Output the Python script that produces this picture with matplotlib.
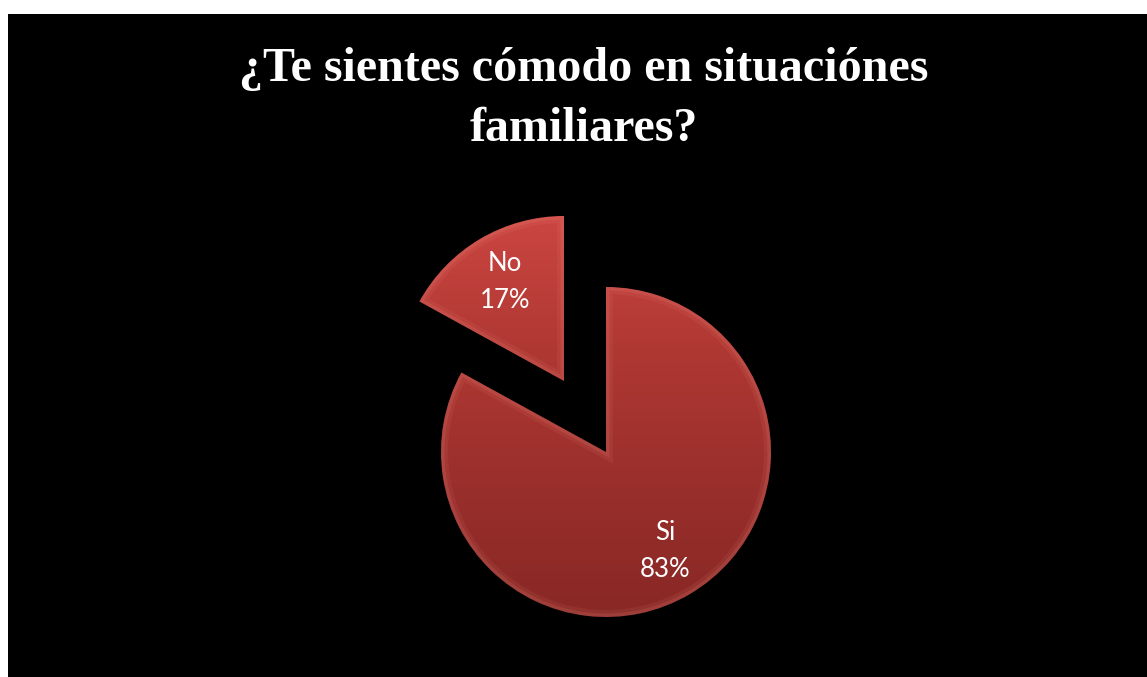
import numpy as np
import matplotlib.pyplot as plt
from matplotlib.patches import Wedge
from matplotlib.colors import LinearSegmentedColormap

# datos de la encuesta
labels = ["Si", "No"]
values = [83, 17]
explode = [0.0, 0.5]
title = "¿Te sientes cómodo en situaciónes\nfamiliares?"

W, H = 1147, 677
fig = plt.figure(figsize=(W / 100, H / 100), dpi=100, facecolor="white")

# fondo negro de la diapositiva (borde blanco arriba e izquierda)
bg = fig.add_axes([8 / W, 0, 1 - 8 / W, 1 - 14 / H])
bg.set_facecolor("black")
bg.set_xticks([])
bg.set_yticks([])
for s in bg.spines.values():
    s.set_visible(False)

# ejes del pastel: 1 unidad = 165 px, centro en (606, 452) px
cx, cy, r = 606, 452, 165
ax = fig.add_axes([0, 0, 1, 1])
ax.patch.set_visible(False)

txt = [f"{l}\n{v}%" for l, v in zip(labels, values)]
wedges, texts = ax.pie(values, labels=txt, explode=explode, startangle=90,
                       counterclock=False, labeldistance=0.7,
                       wedgeprops=dict(facecolor="none", edgecolor="none"),
                       textprops=dict(color="white", fontsize=18.5, family="Lato",
                                      ha="center", va="center", linespacing=1.6))
ax.set_xlim(-cx / r, (W - cx) / r)
ax.set_ylim(-(H - cy) / r, cy / r)
ax.set_aspect("equal")
ax.axis("off")

# degradado rojo dentro de cada porción
grad = np.linspace(0, 1, 256).reshape(-1, 1)
cmap = LinearSegmentedColormap.from_list("rojo", ["#cc4642", "#b03833", "#9a2f2c", "#882825"])
for w in wedges:
    im = ax.imshow(grad, cmap=cmap, aspect="auto", origin="upper",
                   extent=(-1.6, 1.6, -1.0, 1.45), zorder=1)
    im.set_clip_path(w)
    # brillo suave en el borde (bisel)
    for lw, a in [(10, 0.08), (5, 0.12)]:
        rim = Wedge(w.center, w.r, w.theta1, w.theta2, facecolor="none",
                    edgecolor=(1.0, 0.62, 0.58, a), linewidth=lw, zorder=2)
        ax.add_patch(rim)
        rim.set_clip_path(w)
for t in texts:
    t.set_zorder(3)

fig.text(584 / W, 1 - 99 / H, title, color="white", fontsize=34.6, family="Liberation Serif",
         fontweight="bold", ha="center", va="center", linespacing=1.45)

fig.savefig("out.png", dpi=100, facecolor="white")
